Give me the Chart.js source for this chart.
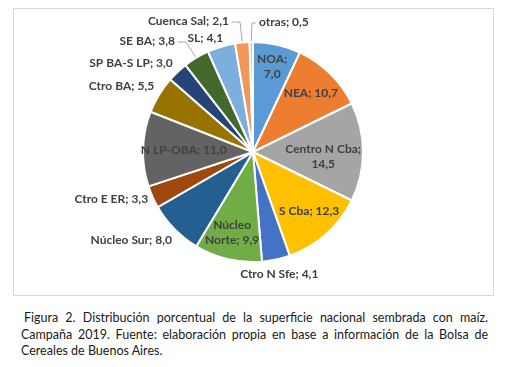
<!DOCTYPE html>
<html lang="es">
<head>
  <meta charset="UTF-8">
  <title>Distribución superficie maíz 2019</title>
  <script src="https://cdn.jsdelivr.net/npm/chart.js"></script>
  <style>
    body {
      margin: 0;
      width: 505px;
      height: 367px;
      background: #ffffff;
      position: relative;
      overflow: hidden;
      font-family: 'Lato', sans-serif;
    }

    .frame {
      position: absolute;
      left: 13px;
      top: 8px;
      width: 479px;
      height: 286px;
      border: 1px solid #d9d9d9;
    }

    .chart-box {
      position: absolute;
      left: 0;
      top: 0;
      width: 505px;
      height: 300px;
    }

    .caption {
      position: absolute;
      left: 21px;
      top: 310px;
      width: 467px;
      font-size: 12.5px;
      line-height: 16.5px;
      color: #1a1a1a;
      text-align: justify;
      text-indent: 3px;
    }
  </style>
</head>
<body>

  <div class="frame"></div>
  <div class="chart-box"><canvas id="pieChart" width="505" height="300"></canvas></div>
  <div class="caption">Figura 2. Distribución porcentual de la superficie nacional sembrada con maíz. Campaña 2019. Fuente: elaboración propia en base a información de la Bolsa de Cereales de Buenos Aires.</div>

  <script>
    // regiones (en sentido horario desde arriba)
    const regiones = [
      "NOA", "NEA", "Centro N Cba", "S Cba", "Ctro N Sfe", "Núcleo Norte",
      "Núcleo Sur", "Ctro E ER", "N LP-OBA", "Ctro BA", "SP BA-S LP",
      "SE BA", "SL", "Cuenca Sal", "otras"
    ];

    // % de la superficie sembrada
    const porcentajes = [7.0, 10.7, 14.5, 12.3, 4.1, 9.9, 8.0, 3.3, 11.0, 5.5, 3.0, 3.8, 4.1, 2.1, 0.5];

    const colores = [
      "#5B9BD5", "#ED7D31", "#A5A5A5", "#FFC000", "#4472C4", "#70AD47",
      "#255E91", "#9E480E", "#636363", "#997300", "#264478",
      "#43682B", "#7CAFDD", "#F1975A", "#C9C9C9"
    ];

    // where each label sits: r = fraction of radius, da = degrees offset,
    // wrap: 1 = break after ';', 2 = break after first word, lead = leader line
    const labelLayout = [
      { r: 0.80, da: 0, align: "center", wrap: 1 },
      { r: 0.75, da: 0, align: "center" },
      { r: 0.64, da: 4, align: "center", wrap: 1 },
      { r: 0.74, da: -2, align: "center" },
      { r: 1.14, da: 0, align: "center" },
      { r: 0.76, da: 1.3, align: "center", wrap: 2 },
      { r: 1.087, da: -2.8, align: "right" },
      { r: 1.045, da: 0, align: "right" },
      { r: 0.63, da: 0, align: "center" },
      { r: 1.08, da: 2.3, align: "right" },
      { r: 1.09, da: 1.3, align: "right" },
      { r: 1.234, da: -4.1, align: "right", lead: true },
      { r: 1.12, da: -6, align: "center" },
      { r: 1.21, da: -4.8, align: "right", lead: true },
      { r: 1.183, da: 3.5, align: "left", lead: true }
    ];

    function fmt(v) {
      return v.toFixed(1).replace(".", ",");
    }

    const pieLabels = {
      id: "pieLabels",
      afterDatasetsDraw(chart) {
        const ctx = chart.ctx;
        const meta = chart.getDatasetMeta(0);
        ctx.save();
        ctx.font = "bold 12px Lato";
        ctx.fillStyle = "#404040";
        ctx.textBaseline = "middle";

        meta.data.forEach((arc, i) => {
          const lay = labelLayout[i];
          const mid = (arc.startAngle + arc.endAngle) / 2;
          const a = mid + lay.da * Math.PI / 180;
          const R = arc.outerRadius;
          const px = arc.x + Math.cos(a) * R * lay.r;
          const py = arc.y + Math.sin(a) * R * lay.r;

          let text = regiones[i] + "; " + fmt(porcentajes[i]);
          let lines = [text];
          if (lay.wrap === 1) {
            lines = [regiones[i] + ";", fmt(porcentajes[i])];
          } else if (lay.wrap === 2) {
            const k = text.indexOf(" ");
            lines = [text.slice(0, k), text.slice(k + 1)];
          }

          ctx.textAlign = lay.align;
          const lh = 15;
          const y0 = py - (lines.length - 1) * lh / 2;
          lines.forEach((ln, j) => ctx.fillText(ln, px, y0 + j * lh));

          if (lay.lead) {
            const sx = arc.x + Math.cos(mid) * (R + 1);
            const sy = arc.y + Math.sin(mid) * (R + 1);
            const dir = lay.align === "right" ? 1 : -1;
            const ex = px + dir * 3;
            const bx = ex + dir * (lay.align === "right" ? 8 : 4);
            ctx.beginPath();
            ctx.strokeStyle = "#a6a6a6";
            ctx.lineWidth = 1;
            ctx.moveTo(ex, py + 1);
            ctx.lineTo(bx, py + 1);
            ctx.lineTo(sx, sy);
            ctx.stroke();
          }
        });
        ctx.restore();
      }
    };

    new Chart(document.getElementById("pieChart"), {
      type: "pie",
      data: {
        labels: regiones,
        datasets: [{
          data: porcentajes,
          backgroundColor: colores,
          borderColor: "#ffffff",
          borderWidth: 2
        }]
      },
      options: {
        responsive: false,
        animation: false,
        layout: { padding: { left: 142, right: 141, top: 41, bottom: 37 } },
        plugins: {
          legend: { display: false },
          tooltip: { enabled: false }
        }
      },
      plugins: [pieLabels]
    });
  </script>

</body>
</html>
